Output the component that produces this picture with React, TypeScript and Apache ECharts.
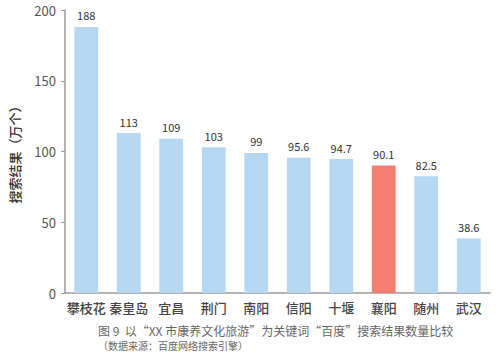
import React, { useEffect, useRef } from "react";
import * as echarts from "echarts";

const categories = ["攀枝花", "秦皇岛", "宜昌", "荆门", "南阳", "信阳", "十堰", "襄阳", "随州", "武汉"];
const values = [188, 113, 109, 103, 99, 95.6, 94.7, 90.1, 82.5, 38.6];
const highlightCity = "襄阳";
const yTicks = [0, 50, 100, 150, 200];
const captionLine1 = "图 9  以“XX 市康养文化旅游”为关键词“百度”搜索结果数量比较";
const captionLine2 = "（数据来源：百度网络搜索引擎）";

const FONT = "'Noto Sans CJK SC', 'Noto Sans', sans-serif";

export default function App() {
  const ref = useRef<HTMLDivElement>(null);
  useEffect(() => {
    if (!ref.current) return;
    const chart = echarts.init(ref.current, undefined, { renderer: "svg" });
    chart.setOption({
      animation: false,
      backgroundColor: "#ffffff",
      grid: { left: 62, right: 10, top: 10, bottom: 63, containLabel: false },
      xAxis: {
        type: "category",
        data: categories,
        axisLine: { lineStyle: { color: "#9a9a9a", width: 1.5 } },
        axisTick: { show: false },
        axisLabel: { interval: 0, color: "#444", fontSize: 13, fontWeight: 500, fontFamily: FONT, margin: 8 },
      },
      yAxis: {
        type: "value",
        min: yTicks[0],
        max: yTicks[yTicks.length - 1],
        interval: 50,
        name: "搜索结果（万个）",
        nameLocation: "middle",
        nameGap: 44,
        nameTextStyle: { color: "#333", fontSize: 13, fontWeight: 500, fontFamily: FONT },
        axisLine: { show: true, lineStyle: { color: "#9a9a9a", width: 1.5 } },
        axisTick: { show: true, length: 4, lineStyle: { color: "#9a9a9a" } },
        splitLine: { show: false },
        axisLabel: { color: "#555", fontSize: 13, fontFamily: FONT, margin: 9 },
      },
      series: [
        {
          type: "bar",
          barWidth: "56%",
          data: categories.map((c, i) => ({
            value: values[i],
            itemStyle: { color: c === highlightCity ? "#f47f70" : "#b5d7f1" },
          })),
          label: {
            show: true,
            position: "top",
            distance: 6,
            color: "#333",
            fontSize: 11,
            fontFamily: FONT,
          },
        },
      ],
      graphic: [
        {
          type: "text",
          left: 98,
          top: 324,
          style: { text: captionLine1, fill: "#666", fontSize: 12, fontFamily: FONT },
        },
        {
          type: "text",
          left: 98,
          top: 340,
          style: { text: captionLine2, fill: "#666", fontSize: 10, fontFamily: FONT },
        },
      ],
    });
    return () => chart.dispose();
  }, []);
  return <div ref={ref} style={{ width: 500, height: 356, position: "absolute", left: 0, top: 0 }} />;
}
